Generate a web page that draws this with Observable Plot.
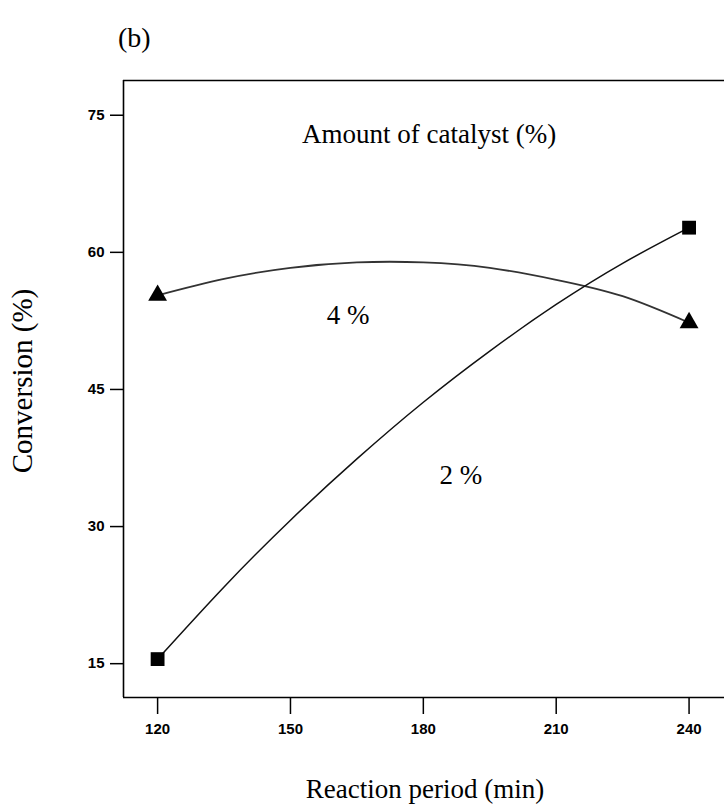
<!DOCTYPE html>
<html>
<head>
<meta charset="utf-8">
<script src="https://cdn.jsdelivr.net/npm/d3@7"></script>
<script src="https://cdn.jsdelivr.net/npm/@observablehq/plot@0.6"></script>
<style>
  html, body { margin: 0; padding: 0; background: #fff; }
  #chart { position: relative; width: 724px; height: 807px; }
  #panel { position: absolute; left: 118px; top: 24px; font: 28px "Liberation Serif", serif; color: #000; line-height: 1; }
</style>
</head>
<body>
<div id="chart"><div id="panel">(b)</div></div>
<script>
// Reaction period (min) — curve sample positions
const periods = [120, 135, 150, 165, 180, 195, 210, 225, 240];
// Conversion (%)
const conv4 = [55.3, 57.1, 58.3, 58.9, 58.9, 58.3, 57.0, 55.2, 52.3];
// Conversion (%)
const conv2 = [15.5, 23.4, 30.7, 37.4, 43.6, 49.2, 54.3, 58.8, 62.7];
// Marked design points (ends of each curve)
const markPeriods = [120, 240];
const mark4 = [55.3, 52.3];
const mark2 = [15.5, 62.7];
const xTicks = [120, 150, 180, 210, 240];
const yTicks = [15, 30, 45, 60, 75];
const seriesLabels = ["4 %", "2 %"];
const seriesLabelPos = [[163, 53.1], [188.5, 35.6]];

const xDomain = [112.3, 248];
const yDomain = [11.3, 78.8];

const line4 = periods.map((p, i) => ({x: p, y: conv4[i]}));
const line2 = periods.map((p, i) => ({x: p, y: conv2[i]}));
const pts4 = markPeriods.map((p, i) => ({x: p, y: mark4[i]}));
const pts2 = markPeriods.map((p, i) => ({x: p, y: mark2[i]}));
const labels = seriesLabels.map((t, i) => ({t, x: seriesLabelPos[i][0], y: seriesLabelPos[i][1]}));

const serif = "Liberation Serif, Times New Roman, serif";
const sans = "Liberation Sans, Arial, sans-serif";

const chart = Plot.plot({
  width: 724,
  height: 807,
  marginTop: 80,
  marginBottom: 110,
  marginLeft: 123,
  marginRight: 0,
  style: {background: "white", color: "black", fontSize: "15px", fontFamily: sans, fontWeight: "bold"},
  x: {domain: xDomain},
  y: {domain: yDomain},
  marks: [
    Plot.ruleX([xDomain[0]], {stroke: "black", strokeWidth: 1.6}),
    Plot.ruleY([yDomain[0], yDomain[1]], {stroke: "black", strokeWidth: 1.6}),
    Plot.axisX({ticks: xTicks, tickSize: 17, tickPadding: 9, label: null, strokeWidth: 1.5}),
    Plot.axisY({ticks: yTicks, tickSize: 13, tickPadding: 6, label: null, strokeWidth: 1.5}),
    Plot.line(line4, {x: "x", y: "y", curve: "natural", stroke: "#333", strokeWidth: 1.8}),
    Plot.line(line2, {x: "x", y: "y", curve: "natural", stroke: "#111", strokeWidth: 1.5}),
    Plot.dot(pts4, {x: "x", y: "y", symbol: "triangle", r: 7, fill: "black", stroke: "none"}),
    Plot.dot(pts2, {x: "x", y: "y", symbol: "square", r: 7.8, fill: "black", stroke: "none"}),
    Plot.text(labels, {x: "x", y: "y", text: "t", fontSize: 27, fontFamily: serif, fontWeight: "normal", fill: "black"}),
    Plot.text(["Amount of catalyst (%)"], {x: 181.3, y: 72.9, fontSize: 27, fontFamily: serif, fontWeight: "normal", fill: "black"}),
    Plot.text(["Conversion (%)"], {frameAnchor: "left", textAnchor: "middle", dx: -101, dy: -8, rotate: -90, fontSize: 29, fontFamily: serif, fontWeight: "normal", fill: "black"}),
    Plot.text(["Reaction period (min)"], {frameAnchor: "bottom", textAnchor: "middle", dx: 1, dy: 100, fontSize: 27, fontFamily: serif, fontWeight: "normal", fill: "black"})
  ]
});
document.getElementById("chart").appendChild(chart);
</script>
</body>
</html>
